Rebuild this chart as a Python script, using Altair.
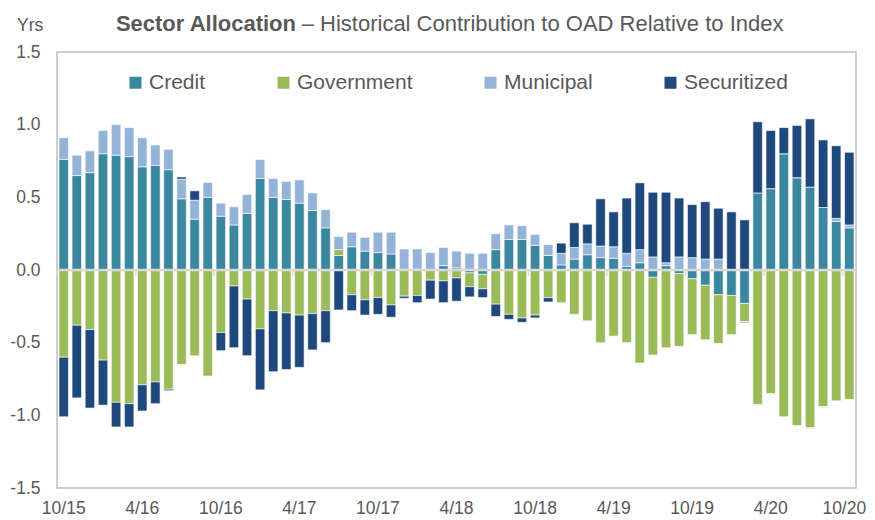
import altair as alt
import pandas as pd

months = ["10/15", "11/15", "12/15",
          "1/16", "2/16", "3/16", "4/16", "5/16", "6/16", "7/16", "8/16", "9/16", "10/16", "11/16", "12/16",
          "1/17", "2/17", "3/17", "4/17", "5/17", "6/17", "7/17", "8/17", "9/17", "10/17", "11/17", "12/17",
          "1/18", "2/18", "3/18", "4/18", "5/18", "6/18", "7/18", "8/18", "9/18", "10/18", "11/18", "12/18",
          "1/19", "2/19", "3/19", "4/19", "5/19", "6/19", "7/19", "8/19", "9/19", "10/19", "11/19", "12/19",
          "1/20", "2/20", "3/20", "4/20", "5/20", "6/20", "7/20", "8/20", "9/20", "10/20"]

credit = [0.76, 0.65, 0.67, 0.80, 0.79, 0.78, 0.71, 0.72, 0.69, 0.49, 0.35, 0.50, 0.37, 0.31, 0.39,
          0.63, 0.50, 0.485, 0.46, 0.41, 0.29, 0.10, 0.16, 0.13, 0.12, 0.11, 0.0,
          0.005, 0.0, 0.03, 0.015, -0.02, -0.03, 0.14, 0.21, 0.21, 0.17, 0.10, 0.035,
          0.075, 0.105, 0.085, 0.08, 0.025, 0.05, -0.05, 0.03, -0.025, -0.06, -0.105, -0.17,
          -0.175, -0.23, 0.53, 0.56, 0.80, 0.635, 0.57, 0.43, 0.335, 0.29]

government = [-0.60, -0.38, -0.41, -0.62, -0.91, -0.92, -0.79, -0.77, -0.82, -0.65, -0.59, -0.73, -0.43, -0.11, -0.20,
              -0.405, -0.28, -0.295, -0.31, -0.30, -0.28, 0.04, -0.17, -0.205, -0.19, -0.24, -0.18,
              -0.175, -0.07, -0.075, -0.055, -0.095, -0.10, -0.235, -0.305, -0.33, -0.31, -0.19, -0.225,
              -0.305, -0.35, -0.50, -0.455, -0.50, -0.64, -0.535, -0.535, -0.50, -0.385, -0.375, -0.335,
              -0.27, -0.125, -0.925, -0.85, -1.01, -1.07, -1.085, -0.94, -0.90, -0.89]

municipal = [0.15, 0.14, 0.15, 0.16, 0.21, 0.20, 0.20, 0.14, 0.14, 0.135, 0.13, 0.105, 0.09, 0.125, 0.13,
             0.13, 0.13, 0.125, 0.16, 0.12, 0.125, 0.09, 0.10, 0.095, 0.14, 0.15, 0.145,
             0.14, 0.12, 0.125, 0.115, 0.115, 0.115, 0.11, 0.10, 0.095, 0.075, 0.075, 0.08,
             0.08, 0.075, 0.08, 0.08, 0.09, 0.09, 0.09, 0.02, 0.09, 0.085, 0.075, 0.075,
             0.0, -0.01, -0.005, 0.0, 0.0, 0.0, -0.005, -0.005, 0.02, 0.02]

securitized = [-0.41, -0.50, -0.54, -0.31, -0.17, -0.16, -0.18, -0.15, -0.01, 0.015, 0.065, 0.0, -0.125, -0.425, -0.39,
               -0.42, -0.42, -0.39, -0.36, -0.25, -0.22, -0.275, -0.11, -0.105, -0.115, -0.085, -0.015,
               -0.05, -0.13, -0.15, -0.16, -0.07, -0.06, -0.085, -0.035, -0.03, -0.02, -0.03, 0.07,
               0.17, 0.135, 0.325, 0.24, 0.38, 0.46, 0.445, 0.485, 0.405, 0.365, 0.395, 0.35,
               0.40, 0.345, 0.49, 0.40, 0.18, 0.36, 0.47, 0.465, 0.50, 0.50]

sectors = ["Credit", "Government", "Municipal", "Securitized"]
colors = ["#3C87A0", "#9BBB59", "#95B3D7", "#1F497D"]
label_months = ["10/15", "4/16", "10/16", "4/17", "10/17", "4/18", "10/18", "4/19", "10/19", "4/20", "10/20"]
y_ticks = [-1.5, -1.0, -0.5, 0.0, 0.5, 1.0, 1.5]

rows = []
for i, m in enumerate(months):
    for k, (s, series) in enumerate(zip(sectors, [credit, government, municipal, securitized])):
        rows.append({"month": m, "sector": s, "value": series[i], "order": k})
df = pd.DataFrame(rows)

TXT = "#595959"
FONT = "Liberation Sans"

xscale = alt.Scale(paddingInner=0.275, paddingOuter=0.15)

bars = alt.Chart(df).mark_bar(stroke="white", strokeWidth=0.6).encode(
    x=alt.X("month:N", sort=months, scale=xscale,
            axis=alt.Axis(values=label_months, labelAngle=0, title=None, domain=False, ticks=False,
                          labelFontSize=17.5, labelColor=TXT, labelFont=FONT, labelPadding=11,
                          labelOffset={"condition": {"test": "datum.value == '10/20'", "value": -5},
                                       "value": 0})),
    y=alt.Y("value:Q", stack="zero", scale=alt.Scale(domain=[-1.5, 1.5], nice=False),
            axis=alt.Axis(values=y_ticks, title=None, domain=False, ticks=False, grid=False,
                          labelExpr="replace(format(datum.value, '.1f'), '\u2212', '-')",
                          labelFontSize=17.5, labelColor=TXT, labelFont=FONT, labelPadding=17)),
    color=alt.Color("sector:N", scale=alt.Scale(domain=sectors, range=colors),
                    legend=alt.Legend(title=None, orient="none", legendX=68, legendY=20,
                                      direction="horizontal", symbolType="square", symbolSize=144,
                                      symbolStrokeWidth=0, labelFontSize=21, labelFont=FONT,
                                      labelColor=TXT, labelOffset=3, columnPadding=67)),
    order=alt.Order("order:Q"),
)

zero = alt.Chart(pd.DataFrame({"y": [0.0]})).mark_rule(color="#d9d9d9", strokeWidth=2.5).encode(
    y="y:Q")

ticks = alt.Chart(pd.DataFrame({"month": label_months})).mark_rule(
    color="#d9d9d9", strokeWidth=1.5, xOffset=-1.8).encode(
    x=alt.X("month:N", sort=months, bandPosition=0),
    y=alt.datum(0.0), y2=alt.datum(-0.04))

title_bold = alt.Chart(pd.DataFrame({"t": ["Sector Allocation"]})).mark_text(
    align="right", baseline="alphabetic", font=FONT, fontSize=22, fontWeight="bold", color=TXT).encode(
    x=alt.value(239), y=alt.value(-20.7), text="t:N")

title_rest = alt.Chart(pd.DataFrame({"t": ["\u2013 Historical Contribution to OAD Relative to Index"]})).mark_text(
    align="left", baseline="alphabetic", font=FONT, fontSize=22, color=TXT).encode(
    x=alt.value(244.7), y=alt.value(-20.7), text="t:N")

yrs = alt.Chart(pd.DataFrame({"t": ["Yrs"]})).mark_text(
    align="left", baseline="alphabetic", font=FONT, fontSize=17.5, color=TXT).encode(
    x=alt.value(-40), y=alt.value(-20.7), text="t:N")

chart = alt.layer(bars, zero, ticks, title_bold, title_rest, yrs).properties(
    width=799, height=436,
    padding={"left": 49, "top": 44, "right": 11, "bottom": 28},
    autosize=alt.AutoSizeParams(type="none"),
).configure_view(stroke="#bfbfbf", strokeWidth=1.5)

chart.save("out.html", embed_options={"renderer": "svg", "actions": False})
